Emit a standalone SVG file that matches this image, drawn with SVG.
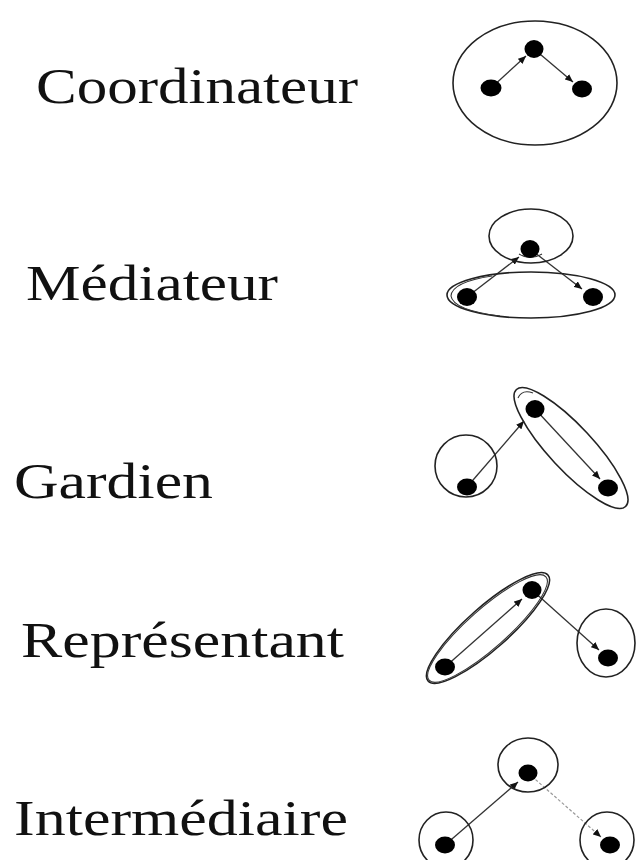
<svg xmlns="http://www.w3.org/2000/svg" width="636" height="860" viewBox="0 0 636 860">
<defs>
<style>
.lbl{font-family:"Liberation Serif","Times New Roman",serif;font-size:50px;fill:#111}
.ring{fill:none;stroke:#222;stroke-width:1.6}
.ring2{fill:none;stroke:#333;stroke-width:1.1}
.dot{fill:#000}
.edge{stroke:#333;stroke-width:1.3;fill:none;marker-end:url(#ah)}
.faint{stroke:#999;stroke-width:1.2;stroke-dasharray:3 2;fill:none;marker-end:url(#ah)}
</style>
<marker id="ah" markerUnits="userSpaceOnUse" markerWidth="9" markerHeight="7" refX="8" refY="3.5" orient="auto">
<path d="M0,0 L8,3.5 L0,7 z" fill="#111"/>
</marker>
</defs>
<rect width="636" height="860" fill="#fff"/>
<g id="labels">
<text class="lbl" x="36" y="103" textLength="322" lengthAdjust="spacingAndGlyphs">Coordinateur</text>
<text class="lbl" x="26" y="300" textLength="252" lengthAdjust="spacingAndGlyphs">Médiateur</text>
<text class="lbl" x="14" y="498" textLength="199" lengthAdjust="spacingAndGlyphs">Gardien</text>
<text class="lbl" x="21" y="657" textLength="323" lengthAdjust="spacingAndGlyphs">Représentant</text>
<text class="lbl" x="14" y="835" textLength="334" lengthAdjust="spacingAndGlyphs">Intermédiaire</text>
</g>
<g id="connectors">
<line class="edge" x1="491" y1="88" x2="526" y2="56"/>
<line class="edge" x1="534" y1="49" x2="573" y2="82"/>
<line class="edge" x1="467" y1="297" x2="519" y2="257"/>
<line class="edge" x1="530" y1="249" x2="582" y2="289"/>
<line class="edge" x1="467" y1="487" x2="524" y2="421"/>
<line class="edge" x1="535" y1="409" x2="600" y2="479"/>
<line class="edge" x1="445" y1="667" x2="522" y2="599"/>
<line class="edge" x1="532" y1="590" x2="599" y2="650"/>
<line class="edge" x1="445" y1="845" x2="518" y2="782"/>
<line class="faint" x1="528" y1="773" x2="601" y2="837"/>
</g>
<g id="coordinateur">
<ellipse class="ring" cx="535" cy="83" rx="82" ry="62"/>
<ellipse class="dot" cx="534" cy="49" rx="9.5" ry="9"/>
<ellipse class="dot" cx="491" cy="88" rx="10.5" ry="8.5"/>
<ellipse class="dot" cx="582" cy="89" rx="10" ry="8.5"/>
</g>
<g id="mediateur">
<ellipse class="ring" cx="531" cy="236" rx="42" ry="27"/>
<path class="ring2" d="M519 254 Q530 261 542 254"/>
<ellipse class="ring" cx="531" cy="295" rx="84" ry="23"/>
<path class="ring2" d="M492 276 Q452 282 451 296 Q453 310 500 316"/>
<ellipse class="dot" cx="530" cy="249" rx="9.5" ry="9"/>
<ellipse class="dot" cx="467" cy="297" rx="10" ry="9"/>
<ellipse class="dot" cx="593" cy="297" rx="10" ry="9"/>
</g>
<g id="gardien">
<ellipse class="ring" cx="466" cy="466" rx="31" ry="31"/>
<ellipse class="ring" cx="571" cy="448" rx="80" ry="22" transform="rotate(47 571 448)"/>
<path class="ring2" d="M518 398 Q522 389 533 393" />
<ellipse class="dot" cx="535" cy="409" rx="9.5" ry="9"/>
<ellipse class="dot" cx="467" cy="487" rx="10" ry="8.5"/>
<ellipse class="dot" cx="608" cy="488" rx="10" ry="8.5"/>
</g>
<g id="representant">
<ellipse class="ring" cx="488" cy="628" rx="80" ry="21" transform="rotate(-41.5 488 628)"/>
<ellipse class="ring2" cx="487.5" cy="628.5" rx="78" ry="19.5" transform="rotate(-41.5 487.5 628.5)"/>
<ellipse class="ring" cx="606" cy="643" rx="29" ry="34"/>
<ellipse class="dot" cx="532" cy="590" rx="9.5" ry="9"/>
<ellipse class="dot" cx="445" cy="667" rx="10" ry="8.5"/>
<ellipse class="dot" cx="608" cy="658" rx="10" ry="8.5"/>
</g>
<g id="intermediaire">
<ellipse class="ring" cx="528" cy="765" rx="30" ry="27"/>
<ellipse class="ring" cx="446" cy="840" rx="27" ry="28"/>
<ellipse class="ring" cx="607" cy="840" rx="27" ry="28"/>
<ellipse class="dot" cx="528" cy="773" rx="9.5" ry="8.5"/>
<ellipse class="dot" cx="445" cy="845" rx="10" ry="8.5"/>
<ellipse class="dot" cx="610" cy="845" rx="10" ry="8.5"/>
</g>
</svg>
